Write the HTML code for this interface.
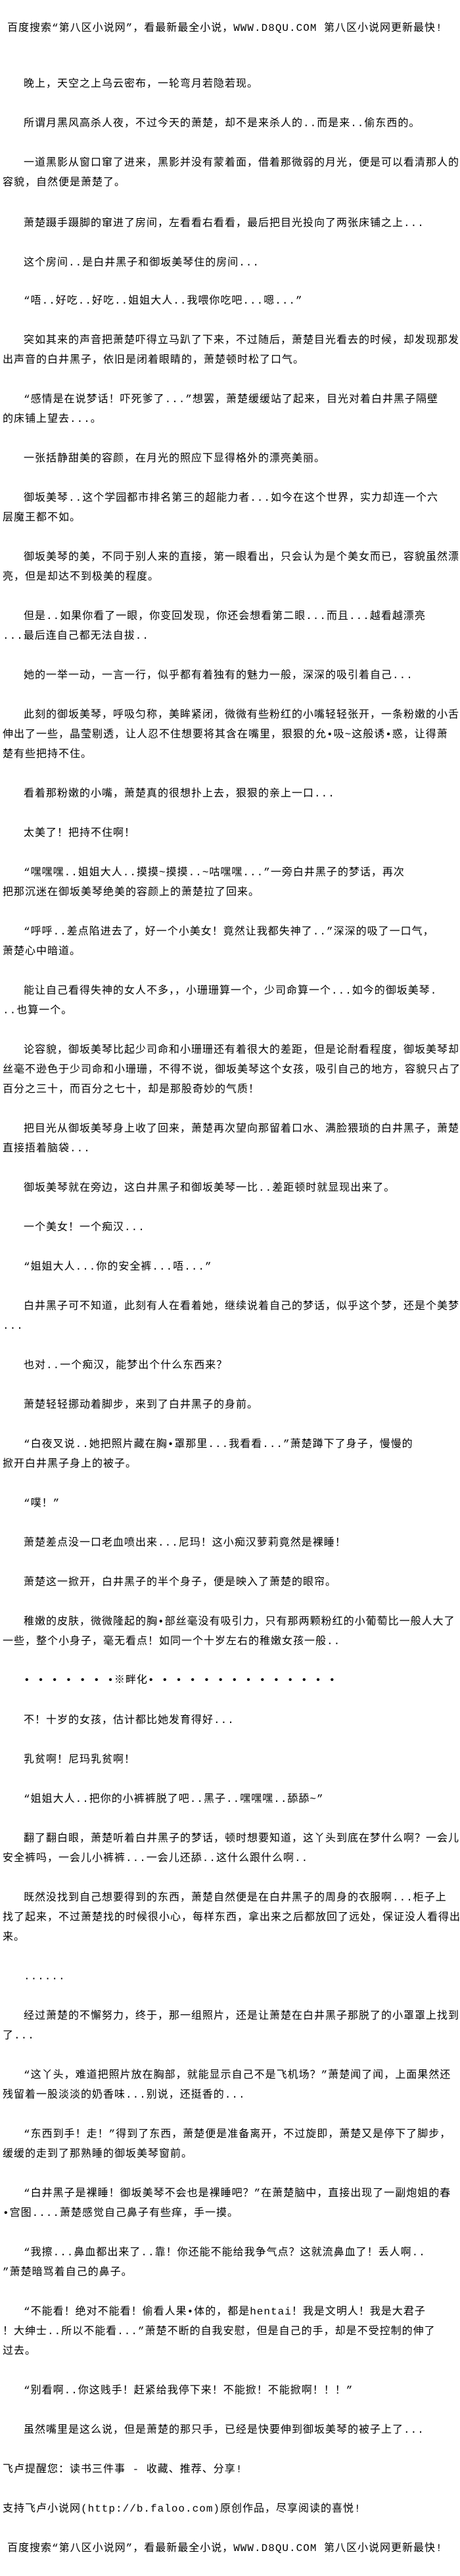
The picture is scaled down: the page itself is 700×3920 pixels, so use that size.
<!DOCTYPE html>
<html><head><meta charset="utf-8">
<style>
html,body{margin:0;padding:0;background:#fff;}
body{width:700px;height:3920px;position:relative;overflow:hidden;}
.l{position:absolute;white-space:nowrap;font-family:"Liberation Mono","Noto Sans CJK SC",monospace;font-size:16px;line-height:30px;letter-spacing:1px;color:#000;}
.i{left:36px;} .c{left:4px;}
</style></head><body>
<div class="l" style="left:11px;top:28px">百度搜索“第八区小说网”，看最新最全小说，WWW.D8QU.COM  第八区小说网更新最快!</div>
<div class="l i" style="top:113px">晚上，天空之上乌云密布，一轮弯月若隐若现。</div>
<div class="l i" style="top:173px">所谓月黑风高杀人夜，不过今天的萧楚，却不是来杀人的..而是来..偷东西的。</div>
<div class="l i" style="top:233px">一道黑影从窗口窜了进来，黑影并没有蒙着面，借着那微弱的月光，便是可以看清那人的</div>
<div class="l c" style="top:263px">容貌，自然便是萧楚了。</div>
<div class="l i" style="top:325px">萧楚蹑手蹑脚的窜进了房间，左看看右看看，最后把目光投向了两张床铺之上...</div>
<div class="l i" style="top:385px">这个房间..是白井黑子和御坂美琴住的房间...</div>
<div class="l i" style="top:443px">“唔..好吃..好吃..姐姐大人..我喂你吃吧...嗯...”</div>
<div class="l i" style="top:503px">突如其来的声音把萧楚吓得立马趴了下来，不过随后，萧楚目光看去的时候，却发现那发</div>
<div class="l c" style="top:533px">出声音的白井黑子，依旧是闭着眼睛的，萧楚顿时松了口气。</div>
<div class="l i" style="top:593px">“感情是在说梦话！吓死爹了...”想罢，萧楚缓缓站了起来，目光对着白井黑子隔壁</div>
<div class="l c" style="top:623px">的床铺上望去...。</div>
<div class="l i" style="top:683px">一张括静甜美的容颜，在月光的照应下显得格外的漂亮美丽。</div>
<div class="l i" style="top:743px">御坂美琴..这个学园都市排名第三的超能力者...如今在这个世界，实力却连一个六</div>
<div class="l c" style="top:773px">层魔王都不如。</div>
<div class="l i" style="top:833px">御坂美琴的美，不同于别人来的直接，第一眼看出，只会认为是个美女而已，容貌虽然漂</div>
<div class="l c" style="top:863px">亮，但是却达不到极美的程度。</div>
<div class="l i" style="top:923px">但是..如果你看了一眼，你变回发现，你还会想看第二眼...而且...越看越漂亮</div>
<div class="l c" style="top:953px">...最后连自己都无法自拔..</div>
<div class="l i" style="top:1013px">她的一举一动，一言一行，似乎都有着独有的魅力一般，深深的吸引着自己...</div>
<div class="l i" style="top:1073px">此刻的御坂美琴，呼吸匀称，美眸紧闭，微微有些粉红的小嘴轻轻张开，一条粉嫩的小舌</div>
<div class="l c" style="top:1103px">伸出了一些，晶莹剔透，让人忍不住想要将其含在嘴里，狠狠的允•吸~这般诱•惑，让得萧</div>
<div class="l c" style="top:1133px">楚有些把持不住。</div>
<div class="l i" style="top:1193px">看着那粉嫩的小嘴，萧楚真的很想扑上去，狠狠的亲上一口...</div>
<div class="l i" style="top:1253px">太美了！把持不住啊！</div>
<div class="l i" style="top:1313px">“嘿嘿嘿..姐姐大人..摸摸~摸摸..~咕嘿嘿...”一旁白井黑子的梦话，再次</div>
<div class="l c" style="top:1343px">把那沉迷在御坂美琴绝美的容颜上的萧楚拉了回来。</div>
<div class="l i" style="top:1403px">“呼呼..差点陷进去了，好一个小美女！竟然让我都失神了..”深深的吸了一口气，</div>
<div class="l c" style="top:1433px">萧楚心中暗道。</div>
<div class="l i" style="top:1493px">能让自己看得失神的女人不多，，小珊珊算一个，少司命算一个...如今的御坂美琴.</div>
<div class="l c" style="top:1523px">..也算一个。</div>
<div class="l i" style="top:1583px">论容貌，御坂美琴比起少司命和小珊珊还有着很大的差距，但是论耐看程度，御坂美琴却</div>
<div class="l c" style="top:1613px">丝毫不逊色于少司命和小珊珊，不得不说，御坂美琴这个女孩，吸引自己的地方，容貌只占了</div>
<div class="l c" style="top:1643px">百分之三十，而百分之七十，却是那股奇妙的气质！</div>
<div class="l i" style="top:1703px">把目光从御坂美琴身上收了回来，萧楚再次望向那留着口水、满脸猥琐的白井黑子，萧楚</div>
<div class="l c" style="top:1733px">直接捂着脑袋...</div>
<div class="l i" style="top:1793px">御坂美琴就在旁边，这白井黑子和御坂美琴一比..差距顿时就显现出来了。</div>
<div class="l i" style="top:1853px">一个美女！一个痴汉...</div>
<div class="l i" style="top:1913px">“姐姐大人...你的安全裤...唔...”</div>
<div class="l i" style="top:1973px">白井黑子可不知道，此刻有人在看着她，继续说着自己的梦话，似乎这个梦，还是个美梦</div>
<div class="l c" style="top:2003px">...</div>
<div class="l i" style="top:2063px">也对..一个痴汉，能梦出个什么东西来？</div>
<div class="l i" style="top:2123px">萧楚轻轻挪动着脚步，来到了白井黑子的身前。</div>
<div class="l i" style="top:2183px">“白夜叉说..她把照片藏在胸•罩那里...我看看...”萧楚蹲下了身子，慢慢的</div>
<div class="l c" style="top:2213px">掀开白井黑子身上的被子。</div>
<div class="l i" style="top:2273px">“噗！”</div>
<div class="l i" style="top:2333px">萧楚差点没一口老血喷出来...尼玛！这小痴汉萝莉竟然是裸睡！</div>
<div class="l i" style="top:2393px">萧楚这一掀开，白井黑子的半个身子，便是映入了萧楚的眼帘。</div>
<div class="l i" style="top:2453px">稚嫩的皮肤，微微隆起的胸•部丝毫没有吸引力，只有那两颗粉红的小葡萄比一般人大了</div>
<div class="l c" style="top:2483px">一些，整个小身子，毫无看点！如同一个十岁左右的稚嫩女孩一般..</div>
<div class="l i" style="top:2542px">• •  • • • • •※畔化• • • • •  • • • • • • • • •</div>
<div class="l i" style="top:2603px">不！十岁的女孩，估计都比她发育得好...</div>
<div class="l i" style="top:2663px">乳贫啊！尼玛乳贫啊！</div>
<div class="l i" style="top:2723px">“姐姐大人..把你的小裤裤脱了吧..黑子..嘿嘿嘿..舔舔~”</div>
<div class="l i" style="top:2783px">翻了翻白眼，萧楚听着白井黑子的梦话，顿时想要知道，这丫头到底在梦什么啊？一会儿</div>
<div class="l c" style="top:2813px">安全裤吗，一会儿小裤裤...一会儿还舔..这什么跟什么啊..</div>
<div class="l i" style="top:2873px">既然没找到自己想要得到的东西，萧楚自然便是在白井黑子的周身的衣服啊...柜子上</div>
<div class="l c" style="top:2903px">找了起来，不过萧楚找的时候很小心，每样东西，拿出来之后都放回了远处，保证没人看得出</div>
<div class="l c" style="top:2933px">来。</div>
<div class="l i" style="top:2993px">......</div>
<div class="l i" style="top:3053px">经过萧楚的不懈努力，终于，那一组照片，还是让萧楚在白井黑子那脱了的小罩罩上找到</div>
<div class="l c" style="top:3083px">了...</div>
<div class="l i" style="top:3143px">“这丫头，难道把照片放在胸部，就能显示自己不是飞机场？”萧楚闻了闻，上面果然还</div>
<div class="l c" style="top:3173px">残留着一股淡淡的奶香味...别说，还挺香的...</div>
<div class="l i" style="top:3233px">“东西到手！走！”得到了东西，萧楚便是准备离开，不过旋即，萧楚又是停下了脚步，</div>
<div class="l c" style="top:3263px">缓缓的走到了那熟睡的御坂美琴窗前。</div>
<div class="l i" style="top:3323px">“白井黑子是裸睡！御坂美琴不会也是裸睡吧？”在萧楚脑中，直接出现了一副炮姐的春</div>
<div class="l c" style="top:3353px">•宫图....萧楚感觉自己鼻子有些痒，手一摸。</div>
<div class="l i" style="top:3413px">“我擦...鼻血都出来了..靠！你还能不能给我争气点？这就流鼻血了！丢人啊..</div>
<div class="l c" style="top:3443px">”萧楚暗骂着自己的鼻子。</div>
<div class="l i" style="top:3503px">“不能看！绝对不能看！偷看人果•体的，都是hentai！我是文明人！我是大君子</div>
<div class="l c" style="top:3533px">！大绅士..所以不能看...”萧楚不断的自我安慰，但是自己的手，却是不受控制的伸了</div>
<div class="l c" style="top:3563px">过去。</div>
<div class="l i" style="top:3623px">“别看啊..你这贱手！赶紧给我停下来！不能掀！不能掀啊！！！”</div>
<div class="l i" style="top:3683px">虽然嘴里是这么说，但是萧楚的那只手，已经是快要伸到御坂美琴的被子上了...</div>
<div class="l c" style="top:3743px">飞卢提醒您：读书三件事 - 收藏、推荐、分享!</div>
<div class="l c" style="top:3803px">支持飞卢小说网(http://b.faloo.com)原创作品，尽享阅读的喜悦!</div>
<div class="l" style="left:11px;top:3863px">百度搜索“第八区小说网”，看最新最全小说，WWW.D8QU.COM  第八区小说网更新最快!</div>
</body></html>
